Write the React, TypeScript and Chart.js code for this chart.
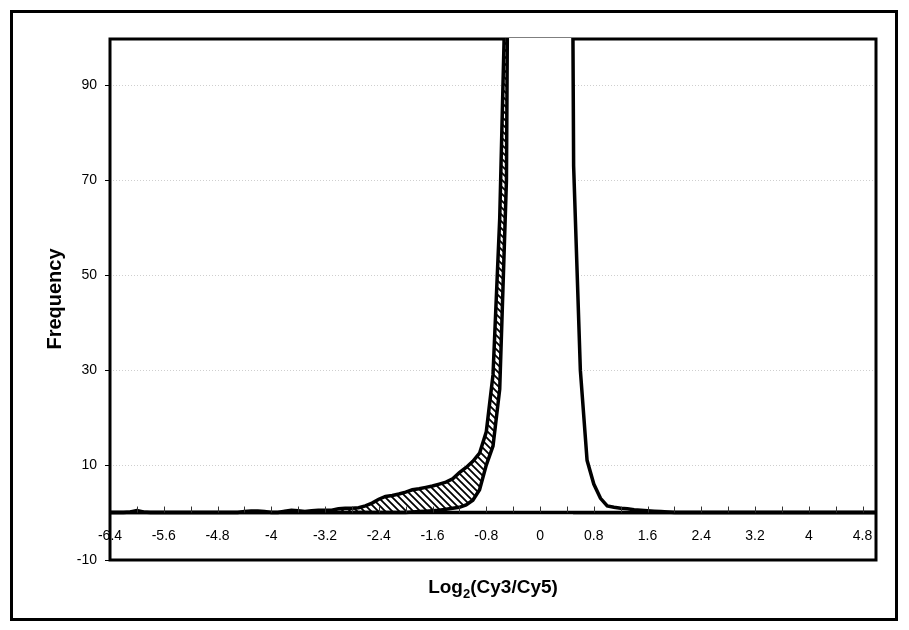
import React, { useEffect, useRef } from "react";
import { Chart, registerables } from "chart.js";

Chart.register(...registerables);

// Bin centres of Log2(Cy3/Cy5), step 0.1 from -6.4 to 5.0
const bins = [
  -6.4, -6.3, -6.2, -6.1, -6.0, -5.9, -5.8, -5.7, -5.6, -5.5,
  -5.4, -5.3, -5.2, -5.1, -5.0, -4.9, -4.8, -4.7, -4.6, -4.5,
  -4.4, -4.3, -4.2, -4.1, -4.0, -3.9, -3.8, -3.7, -3.6, -3.5,
  -3.4, -3.3, -3.2, -3.1, -3.0, -2.9, -2.8, -2.7, -2.6, -2.5,
  -2.4, -2.3, -2.2, -2.1, -2.0, -1.9, -1.8, -1.7, -1.6, -1.5,
  -1.4, -1.3, -1.2, -1.1, -1.0, -0.9, -0.8, -0.7, -0.6, -0.5,
  -0.4, -0.3, -0.2, -0.1, 0.0, 0.1, 0.2, 0.3, 0.4, 0.5,
  0.6, 0.7, 0.8, 0.9, 1.0, 1.1, 1.2, 1.3, 1.4, 1.5,
  1.6, 1.7, 1.8, 1.9, 2.0, 2.1, 2.2, 2.3, 2.4, 2.5,
  2.6, 2.7, 2.8, 2.9, 3.0, 3.1, 3.2, 3.3, 3.4, 3.5,
  3.6, 3.7, 3.8, 3.9, 4.0, 4.1, 4.2, 4.3, 4.4, 4.5,
  4.6, 4.7, 4.8, 4.9, 5.0,
];

// Hatched series (before normalisation)
const hatchedFreq = [
  0, 0, 0, 0.1, 0.4, 0.1, 0, 0, 0, 0,
  0, 0, 0, 0, 0, 0, 0, 0, 0, 0,
  0.2, 0.3, 0.3, 0.2, 0, 0, 0.3, 0.5, 0.4, 0.2,
  0.4, 0.5, 0.5, 0.5, 0.8, 0.9, 0.9, 1.0, 1.4, 2.0,
  2.8, 3.4, 3.6, 3.9, 4.3, 4.8, 5.0, 5.3, 5.6, 6.0,
  6.4, 7.1, 8.4, 9.5, 10.8, 12.5, 17, 29, 62, 120,
  220, 240, 190, 120, 60, 25, 8, 2, 0.5, 0,
  0, 0, 0, 0, 0, 0, 0, 0, 0, 0,
  0, 0, 0, 0, 0, 0, 0, 0, 0, 0,
  0, 0, 0, 0, 0, 0, 0, 0, 0, 0,
  0, 0, 0, 0, 0, 0, 0, 0, 0, 0,
  0, 0, 0, 0, 0,
];

// White series (after normalisation)
const whiteFreq = [
  0, 0, 0, 0, 0, 0, 0, 0, 0, 0,
  0, 0, 0, 0, 0, 0, 0, 0, 0, 0,
  0, 0, 0, 0, 0, 0, 0, 0, 0, 0,
  0, 0, 0, 0, 0, 0, 0, 0, 0, 0,
  0, 0, 0, 0, 0, 0.1, 0.2, 0.3, 0.4, 0.5,
  0.7, 0.9, 1.1, 1.6, 2.6, 4.8, 10, 14, 26, 70,
  300, 520, 700, 800, 820, 780, 650, 500, 340, 73,
  30, 11, 6, 3, 1.4, 1.1, 0.9, 0.8, 0.6, 0.5,
  0.4, 0.3, 0.2, 0.1, 0, 0, 0, 0, 0, 0,
  0, 0, 0, 0, 0, 0, 0, 0, 0, 0,
  0, 0, 0, 0, 0, 0, 0, 0, 0, 0,
  0, 0, 0, 0, 0,
];

const xLabelValues = [-6.4, -5.6, -4.8, -4.0, -3.2, -2.4, -1.6, -0.8, 0, 0.8, 1.6, 2.4, 3.2, 4.0, 4.8];
const yTickValues = [-10, 10, 30, 50, 70, 90];
const X_MIN = -6.4;
const X_MAX = 5.0;
const Y_MIN = -10;
const Y_MAX = 100;

const FONT = "'Liberation Sans', Arial, Helvetica, sans-serif";

function makeHatch(): CanvasPattern | string {
  const s = 7;
  const c = document.createElement("canvas");
  c.width = s;
  c.height = s;
  const g = c.getContext("2d");
  if (!g) return "#fff";
  g.fillStyle = "#fff";
  g.fillRect(0, 0, s, s);
  g.strokeStyle = "#000";
  g.lineWidth = 1.8;
  g.beginPath();
  g.moveTo(-1, -1);
  g.lineTo(s + 1, s + 1);
  g.moveTo(-1, s - 1);
  g.lineTo(1, s + 1);
  g.moveTo(s - 1, -1);
  g.lineTo(s + 1, 1);
  g.stroke();
  const p = g.createPattern(c, "repeat");
  return p || "#fff";
}

const decorPlugin = {
  id: "decor",
  beforeDatasetsDraw(chart: any) {
    const { ctx, chartArea: a, scales } = chart;
    ctx.save();
    ctx.strokeStyle = "#000";
    ctx.lineWidth = 3;
    ctx.beginPath();
    // top edge kept inside the plot area so the series fills can cover it
    ctx.moveTo(a.left - 1.5, a.top + 1);
    ctx.lineTo(a.right + 1.5, a.top + 1);
    ctx.moveTo(a.left, a.top);
    ctx.lineTo(a.left, a.bottom + 1.5);
    ctx.moveTo(a.right, a.top);
    ctx.lineTo(a.right, a.bottom + 1.5);
    ctx.moveTo(a.left - 1.5, a.bottom);
    ctx.lineTo(a.right + 1.5, a.bottom);
    ctx.stroke();
    ctx.lineWidth = 1;
    ctx.beginPath();
    for (const t of scales.y.ticks) {
      const py = Math.round(scales.y.getPixelForValue(t.value)) + 0.5;
      ctx.moveTo(a.left - 5, py);
      ctx.lineTo(a.left, py);
    }
    ctx.stroke();
    ctx.restore();
  },
  afterDatasetsDraw(chart: any) {
    const { ctx, chartArea: a, scales } = chart;
    const y0 = scales.y.getPixelForValue(0);
    ctx.save();
    ctx.strokeStyle = "#000";
    ctx.lineWidth = 3.5;
    ctx.beginPath();
    ctx.moveTo(a.left, y0);
    ctx.lineTo(a.right, y0);
    ctx.stroke();
    ctx.lineWidth = 1;
    ctx.strokeStyle = "#333";
    ctx.beginPath();
    for (const t of scales.x.ticks) {
      const px = Math.round(scales.x.getPixelForValue(t.value)) + 0.5;
      if (px <= a.left + 2 || px >= a.right - 2) continue;
      ctx.moveTo(px, y0 - 6);
      ctx.lineTo(px, y0);
    }
    ctx.stroke();
    ctx.restore();
  },
  afterDraw(chart: any) {
    const { ctx, chartArea: a } = chart;
    ctx.save();
    ctx.fillStyle = "#000";
    // Y title
    ctx.font = `bold 20px ${FONT}`;
    ctx.textAlign = "center";
    ctx.textBaseline = "middle";
    ctx.translate(55, (a.top + a.bottom) / 2);
    ctx.rotate(-Math.PI / 2);
    ctx.fillText("Frequency", 0, 0);
    ctx.setTransform(1, 0, 0, 1, 0, 0);
    // X title with subscript
    const cx = (a.left + a.right) / 2;
    const base = 593;
    const p1 = "Log";
    const p2 = "2";
    const p3 = "(Cy3/Cy5)";
    ctx.textBaseline = "alphabetic";
    ctx.textAlign = "left";
    ctx.font = `bold 19px ${FONT}`;
    const w1 = ctx.measureText(p1).width;
    const w3 = ctx.measureText(p3).width;
    ctx.font = `bold 13px ${FONT}`;
    const w2 = ctx.measureText(p2).width;
    let x = cx - (w1 + w2 + w3) / 2;
    ctx.font = `bold 19px ${FONT}`;
    ctx.fillText(p1, x, base);
    x += w1;
    ctx.font = `bold 13px ${FONT}`;
    ctx.fillText(p2, x, base + 5);
    x += w2;
    ctx.font = `bold 19px ${FONT}`;
    ctx.fillText(p3, x, base);
    // outer frame
    ctx.strokeStyle = "#000";
    ctx.lineWidth = 3;
    ctx.strokeRect(11.5, 11.5, 885, 608);
    ctx.restore();
  },
};

export default function App() {
  const ref = useRef<HTMLCanvasElement | null>(null);

  useEffect(() => {
    if (!ref.current) return;
    const hatch = makeHatch();
    const whitePts = bins.map((b, i) => ({ x: b, y: whiteFreq[i] }));
    const hatchPts = bins.map((b, i) => ({ x: b, y: hatchedFreq[i] }));
    const clip = { left: 0, top: 0, right: 0, bottom: 0 };
    const chart = new Chart(ref.current, {
      type: "line",
      data: {
        datasets: [
          {
            label: "After",
            data: whitePts,
            borderColor: "#000",
            borderWidth: 3.5,
            backgroundColor: "#fff",
            fill: "origin",
            pointRadius: 0,
            tension: 0,
            clip,
            order: 0,
          },
          {
            label: "Before",
            data: hatchPts,
            borderColor: "#000",
            borderWidth: 3.5,
            backgroundColor: hatch as any,
            fill: "origin",
            pointRadius: 0,
            tension: 0,
            clip,
            order: 1,
          },
        ],
      },
      options: {
        animation: false,
        responsive: false,
        devicePixelRatio: 1,
        layout: { padding: { left: 0, top: 38, right: 33, bottom: 70 } },
        plugins: {
          legend: { display: false },
          tooltip: { enabled: false },
          title: { display: false },
        },
        scales: {
          x: {
            type: "linear",
            min: X_MIN,
            max: X_MAX,
            position: { y: 0 } as any,
            grid: { display: false, drawTicks: false },
            border: { display: false },
            afterBuildTicks: (scale: any) => {
              const vals: number[] = [];
              xLabelValues.forEach((v, i) => {
                vals.push(v);
                if (i < xLabelValues.length - 1) vals.push((v + xLabelValues[i + 1]) / 2);
              });
              scale.ticks = vals.map((v) => ({ value: v }));
            },
            ticks: {
              autoSkip: false,
              maxRotation: 0,
              padding: 15,
              color: "#000",
              font: { family: FONT, size: 14 },
              callback: (v: any) => {
                const n = Number(v);
                const isLabel = xLabelValues.some((l) => Math.abs(l - n) < 1e-6);
                return isLabel ? String(Math.round(n * 10) / 10) : "";
              },
            },
          },
          y: {
            type: "linear",
            min: Y_MIN,
            max: Y_MAX,
            afterFit: (scale: any) => {
              scale.width = 110;
            },
            afterBuildTicks: (scale: any) => {
              scale.ticks = yTickValues.map((v) => ({ value: v }));
            },
            grid: {
              drawTicks: false,
              lineWidth: 1,
              color: (c: any) => (c.tick && c.tick.value === Y_MIN ? "rgba(0,0,0,0)" : "#cfcfcf"),
            },
            border: { display: false, dash: [1, 2] },
            ticks: {
              padding: 13,
              color: "#000",
              font: { family: FONT, size: 14 },
            },
          },
        },
      },
      plugins: [decorPlugin],
    });
    return () => chart.destroy();
  }, []);

  return (
    <div style={{ position: "fixed", left: 0, top: 0, width: 909, height: 630, background: "#fff" }}>
      <canvas ref={ref} width={909} height={630} style={{ display: "block", width: 909, height: 630 }} />
    </div>
  );
}
